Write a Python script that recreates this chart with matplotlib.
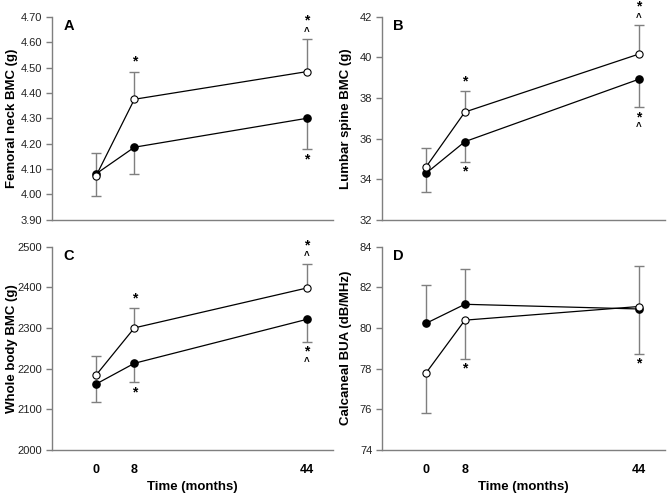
import numpy as np
import matplotlib
matplotlib.use("Agg")
from matplotlib import pyplot as plt

plt.rcParams['font.family'] = ['Liberation Sans', 'DejaVu Sans']

months = [0, 8, 44]
month_labels = ['0', '8', '44']

# A: femoral neck BMC (g)
fn_closed = [4.081, 4.186, 4.300]
fn_closed_err = [0.087, 0.106, 0.122]
fn_open = [4.073, 4.375, 4.484]
fn_open_err = [0.089, 0.109, 0.127]

# B: lumbar spine BMC (g)
ls_closed = [34.30, 35.85, 38.92]
ls_closed_err = [0.94, 1.01, 1.38]
ls_open = [34.62, 37.31, 40.16]
ls_open_err = [0.90, 1.05, 1.43]

# C: whole body BMC (g)
wb_closed = [2162, 2213, 2321]
wb_closed_err = [44, 47, 56]
wb_open = [2184, 2300, 2398]
wb_open_err = [47, 48, 59]

# D: calcaneal BUA (dB/MHz)
bua_closed = [80.23, 81.16, 80.93]
bua_closed_err = [1.87, 1.74, 2.09]
bua_open = [77.80, 80.38, 81.05]
bua_open_err = [2.00, 1.90, 2.33]

# significance marks: (time index, side, symbols)
fn_marks = [(1, 'above', '*'), (2, 'above', '*^'), (2, 'below', '*')]
ls_marks = [(1, 'above', '*'), (1, 'below', '*'), (2, 'above', '*^'), (2, 'below', '*^')]
wb_marks = [(1, 'above', '*'), (1, 'below', '*'), (2, 'above', '*^'), (2, 'below', '*^')]
bua_marks = [(1, 'below', '*'), (2, 'below', '*')]

GREY = '#7f7f7f'


def one_sided_err(ax, x, y, err, sign):
    y = np.asarray(y, dtype=float)
    ends = y + sign * np.asarray(err, dtype=float)
    ax.vlines(x, y, ends, color=GREY, lw=1.0, zorder=1)
    ax.plot(x, ends, ls='none', marker='_', ms=6.5, mew=1.0, color=GREY, zorder=1)
    return ends


def panel(ax, letter, closed, closed_err, opened, opened_err, closed_sign,
          marks, ylim, yticks, fmt, ylabel, label_x, bottom):
    hi_c = one_sided_err(ax, months, closed, closed_err, closed_sign)
    hi_o = one_sided_err(ax, months, opened, opened_err, -closed_sign)
    ax.plot(months, closed, color='black', lw=0.9, marker='o', ms=5.2,
            mfc='black', mec='black', zorder=3)
    ax.plot(months, opened, color='black', lw=0.9, marker='o', ms=5.2,
            mfc='white', mec='black', mew=0.8, zorder=4)

    upper = np.maximum(hi_c, hi_o)
    lower = np.minimum(hi_c, hi_o)
    for i, side, syms in marks:
        if side == 'above':
            # caret sits next to the cap, asterisk above it
            offs = [13.5, 5.5] if len(syms) == 2 else [7.0]
            ref = upper[i]
        else:
            offs = [-7.0, -14.5] if len(syms) == 2 else [-7.0]
            ref = lower[i]
        for s, off in zip(syms, offs):
            ax.annotate(s, xy=(months[i], ref), xytext=(0, off),
                        textcoords='offset points', ha='center', va='center',
                        fontsize=10 if s == '*' else 7, fontweight='bold',
                        annotation_clip=False)

    ax.set_xlim(-9.2, 49.4)
    ax.set_ylim(*ylim)
    ax.set_yticks(yticks)
    ax.set_yticklabels([fmt.format(t) for t in yticks], fontsize=8, color='#222222')
    ax.set_ylabel(ylabel, fontsize=9.5, fontweight='bold')
    ax.yaxis.set_label_coords(label_x, 0.5)
    if bottom:
        ax.set_xticks(months)
        ax.set_xticklabels(month_labels, fontsize=9, fontweight='bold')
        ax.set_xlabel('Time (months)', fontsize=9.5, fontweight='bold', labelpad=4)
    else:
        ax.set_xticks([])
    ax.tick_params(axis='x', length=0, pad=10)
    ax.tick_params(axis='y', length=4, width=1, color=GREY, direction='out', pad=3)
    for side in ['top', 'right']:
        ax.spines[side].set_visible(False)
    for side in ['left', 'bottom']:
        ax.spines[side].set_color(GREY)
        ax.spines[side].set_linewidth(1.0)
    ax.text(0.04, 0.953, letter, transform=ax.transAxes, fontsize=10.5,
            fontweight='bold', ha='left', va='center')


fig = plt.figure(figsize=(6.7, 4.95), dpi=100)
axA = fig.add_axes([0.0776, 0.556, 0.419, 0.410])
axB = fig.add_axes([0.570, 0.556, 0.422, 0.410])
axC = fig.add_axes([0.0776, 0.091, 0.419, 0.411])
axD = fig.add_axes([0.570, 0.091, 0.422, 0.411])

panel(axA, 'A', fn_closed, fn_closed_err, fn_open, fn_open_err, -1, fn_marks,
      (3.90, 4.70), np.arange(3.90, 4.701, 0.10), '{:.2f}', 'Femoral neck BMC (g)',
      -0.121, False)
panel(axB, 'B', ls_closed, ls_closed_err, ls_open, ls_open_err, -1, ls_marks,
      (32, 42), np.arange(32, 43, 2), '{:.0f}', 'Lumbar spine BMC (g)',
      -0.106, False)
panel(axC, 'C', wb_closed, wb_closed_err, wb_open, wb_open_err, -1, wb_marks,
      (2000, 2500), np.arange(2000, 2501, 100), '{:.0f}', 'Whole body BMC (g)',
      -0.121, True)
panel(axD, 'D', bua_closed, bua_closed_err, bua_open, bua_open_err, 1, bua_marks,
      (74, 84), np.arange(74, 85, 2), '{:.0f}', 'Calcaneal BUA (dB/MHz)',
      -0.106, True)

fig.savefig('out.png', dpi=100)
